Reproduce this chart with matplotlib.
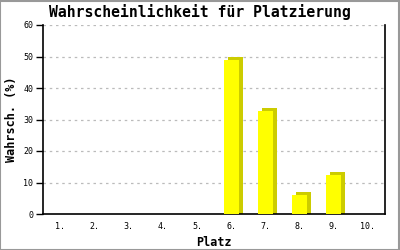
import matplotlib.pyplot as plt
import matplotlib.transforms as mtransforms

plaetze = ['1.', '2.', '3.', '4.', '5.', '6.', '7.', '8.', '9.', '10.']
wahrsch = [0, 0, 0, 0, 0, 49.0, 32.7, 6.0, 12.4, 0]
y_ticks = [0, 10, 20, 30, 40, 50, 60]

mono = 'DejaVu Sans Mono'

fig = plt.figure(figsize=(4, 2.5), dpi=100)
fig.patch.set_facecolor('white')
ax = fig.add_axes([0.1075, 0.144, 0.855, 0.756])

x = list(range(len(plaetze)))
breite = 0.44

# Schatten (3D-Effekt): 4 px nach rechts, 3 px nach oben verschoben
schatten = mtransforms.offset_copy(ax.transData, fig=fig, x=4, y=3, units='dots')
nonzero = [i for i, v in enumerate(wahrsch) if v > 0]
for i in nonzero:
    ax.bar(x[i], wahrsch[i], width=breite, color='#cccc00', linewidth=0,
           transform=schatten, zorder=2)
    ax.bar(x[i], 0.95, bottom=-0.95, width=breite, color='#cccc00', linewidth=0,
           transform=schatten, zorder=2)
ax.bar([x[i] for i in nonzero], [wahrsch[i] for i in nonzero], width=breite,
       color='#ffff00', linewidth=0, zorder=3)

ax.set_xlim(-0.5, len(plaetze) - 0.5)
ax.set_ylim(0, 60)
ax.set_xticks(x)
ax.set_xticklabels(plaetze, fontsize=6, family=mono)
ax.set_yticks(y_ticks)
ax.set_yticklabels([str(t) for t in y_ticks], fontsize=6, family=mono)
ax.tick_params(axis='x', length=0, pad=6)
ax.tick_params(axis='y', length=5, width=1, pad=2)

for t in y_ticks[1:]:
    ax.axhline(t, color='#bbbbbb', linestyle=(0, (2, 3)), linewidth=0.9, zorder=1)

for s in ['left', 'bottom', 'right']:
    ax.spines[s].set_linewidth(1.2)
ax.spines['top'].set_visible(False)

fig.text(0.5, 0.952, 'Wahrscheinlichkeit für Platzierung', family=mono, fontsize=10.6,
         fontweight='bold', ha='center', va='center')
ax.set_xlabel('Platz', family=mono, fontsize=8.5, fontweight='bold', labelpad=3)
ax.set_ylabel('Wahrsch. (%)', family=mono, fontsize=8.5, fontweight='bold', labelpad=4)

# grauer Rahmen um das Bild
fig.add_artist(plt.Rectangle((0.001, 0.002), 0.997, 0.996, transform=fig.transFigure,
                             fill=False, edgecolor='#999999', linewidth=1.5))

fig.savefig('out.png', dpi=100)
